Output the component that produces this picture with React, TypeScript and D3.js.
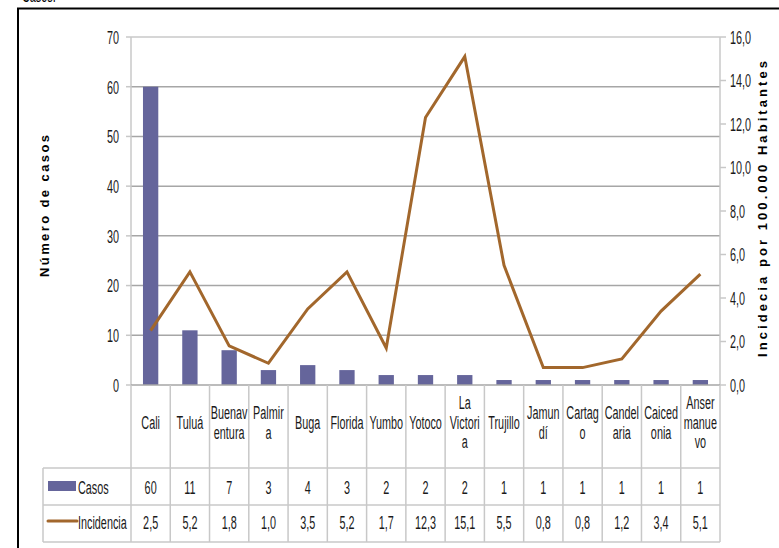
import React from "react";
import * as d3 from "d3";

// Municipios (category labels, wrapped as in the table header)
const municipios = [
  "Cali", "Tuluá", "Buenaventura", "Palmira", "Buga", "Florida", "Yumbo", "Yotoco",
  "La Victoria", "Trujillo", "Jamundí", "Cartago", "Candelaria", "Caicedonia", "Ansermanuevo",
];
const etiquetas: string[][] = [
  ["Cali"], ["Tuluá"], ["Buenav", "entura"], ["Palmir", "a"], ["Buga"], ["Florida"],
  ["Yumbo"], ["Yotoco"], ["La", "Victori", "a"], ["Trujillo"], ["Jamun", "dí"],
  ["Cartag", "o"], ["Candel", "aria"], ["Caiced", "onia"], ["Anser", "manue", "vo"],
];
const casos = [60, 11, 7, 3, 4, 3, 2, 2, 2, 1, 1, 1, 1, 1, 1];
const incidencia = [2.5, 5.2, 1.8, 1.0, 3.5, 5.2, 1.7, 12.3, 15.1, 5.5, 0.8, 0.8, 1.2, 3.4, 5.1];
const ticksCasos = [0, 10, 20, 30, 40, 50, 60, 70];
const ticksIncidencia = [0, 2, 4, 6, 8, 10, 12, 14, 16];

const W = 779;
const H = 548;
const left = 131;
const right = 720;
const top = 37;
const bottom = 385;
const rowHeader = 468;
const rowCasos = 505;
const rowEnd = 542;
const tableLeft = 43;

const BAR = "#65659b";
const LINE = "#a2672c";
const GRID = "#a6a6a6";
const FRAME = "#c8c8c8";
const sans = "'Liberation Sans', Arial, sans-serif";

const fmt = (v: number) => v.toFixed(1).replace(".", ",");

// Tall, condensed label text
function T({ x, y, anchor = "middle", children }: { x: number; y: number; anchor?: string; children: React.ReactNode }) {
  return (
    <text
      transform={`translate(${x},${y}) scale(0.57,1)`}
      textAnchor={anchor}
      dy="0.36em"
      fontFamily={sans}
      fontSize={19}
      fill="#1a1a1a"
    >
      {children}
    </text>
  );
}

export default function App() {
  const x = d3.scaleBand<string>().domain(municipios).range([left, right]).paddingInner(0).paddingOuter(0);
  const yL = d3.scaleLinear().domain([0, 70]).range([bottom, top]);
  const yR = d3.scaleLinear().domain([0, 16]).range([bottom, top]);
  const bw = x.bandwidth() * 0.39;
  const cx = (m: string) => (x(m) as number) + x.bandwidth() / 2;

  const line = d3
    .line<number>()
    .x((_, i) => cx(municipios[i]))
    .y((d) => yR(d));

  const bounds = municipios.map((m) => x(m) as number).concat([right]);

  return (
    <div style={{ position: "absolute", left: 0, top: 0 }}>
      <svg width={W} height={H} style={{ display: "block", background: "#fff" }}>
        {/* text line cut by the frame above */}
        <g transform="translate(22,2) scale(0.57,1)">
          <text fontFamily={sans} fontSize={19} fill="#000">Casos.</text>
        </g>
        {/* outer frame */}
        <rect x={18} y={8.5} width={W + 10} height={H} fill="none" stroke="#000" strokeWidth={2} />

        {/* plot frame */}
        <line x1={left} x2={right} y1={top} y2={top} stroke={FRAME} strokeWidth={1.5} />
        {/* gridlines */}
        {ticksCasos.filter((t) => t > 0 && t < 70).map((t) => (
          <line key={t} x1={left} x2={right} y1={yL(t)} y2={yL(t)} stroke={GRID} strokeWidth={1.5} />
        ))}
        <line x1={left} x2={left} y1={top} y2={bottom} stroke={FRAME} strokeWidth={1.5} />
        <line x1={right} x2={right} y1={top} y2={bottom} stroke={FRAME} strokeWidth={1.5} />

        {/* left axis */}
        {ticksCasos.map((t) => (
          <g key={t}>
            <line x1={left - 5} x2={left} y1={yL(t)} y2={yL(t)} stroke={FRAME} strokeWidth={1.5} />
            <T x={119} y={yL(t)} anchor="end">{t}</T>
          </g>
        ))}
        {/* right axis */}
        {ticksIncidencia.map((t) => (
          <g key={t}>
            <line x1={right} x2={right + 6} y1={yR(t)} y2={yR(t)} stroke={FRAME} strokeWidth={1.5} />
            <T x={730} y={yR(t)} anchor="start">{fmt(t)}</T>
          </g>
        ))}

        {/* bars */}
        {casos.map((v, i) => (
          <rect key={municipios[i]} x={cx(municipios[i]) - bw / 2} y={yL(v)} width={bw} height={yL(0) - yL(v)} fill={BAR} />
        ))}
        {/* incidence line */}
        <path d={line(incidencia) as string} fill="none" stroke={LINE} strokeWidth={3} strokeLinejoin="miter" />

        {/* base axis */}
        <line x1={left} x2={right} y1={bottom} y2={bottom} stroke={GRID} strokeWidth={1.5} />

        {/* data table */}
        {bounds.map((b, i) => (
          <line key={i} x1={b} x2={b} y1={bottom} y2={rowEnd} stroke={FRAME} strokeWidth={1.5} />
        ))}
        <line x1={tableLeft} x2={tableLeft} y1={rowHeader} y2={rowEnd} stroke={FRAME} strokeWidth={1.5} />
        {[rowHeader, rowCasos, rowEnd].map((yy) => (
          <line key={yy} x1={tableLeft} x2={right} y1={yy} y2={yy} stroke={FRAME} strokeWidth={1.5} />
        ))}
        {etiquetas.map((lines, i) => {
          const c = cx(municipios[i]);
          const lh = 19.5;
          const y0 = 422 - ((lines.length - 1) * lh) / 2;
          return (
            <g key={i}>
              {lines.map((s, j) => (
                <T key={j} x={c} y={y0 + j * lh}>{s}</T>
              ))}
            </g>
          );
        })}
        {casos.map((v, i) => (
          <T key={i} x={cx(municipios[i])} y={487}>{v}</T>
        ))}
        {incidencia.map((v, i) => (
          <T key={i} x={cx(municipios[i])} y={522}>{fmt(v)}</T>
        ))}
        {/* legend keys */}
        <rect x={48} y={481} width={28} height={10} fill={BAR} />
        <T x={78} y={487} anchor="start">Casos</T>
        <line x1={48} x2={77} y1={521} y2={521} stroke={LINE} strokeWidth={3} strokeLinecap="round" />
        <T x={78} y={522} anchor="start">Incidencia</T>

        {/* axis titles */}
        <text transform="translate(49,206) rotate(-90)" textAnchor="middle" fontFamily={sans} fontWeight="bold" fontSize={13} textLength={142} lengthAdjust="spacing" fill="#000">Número de casos</text>
        <text transform="translate(767,209) rotate(-90)" textAnchor="middle" fontFamily={sans} fontWeight="bold" fontSize={13} textLength={296} lengthAdjust="spacing" fill="#000">Incidecia por 100.000 Habitantes</text>
      </svg>
    </div>
  );
}
